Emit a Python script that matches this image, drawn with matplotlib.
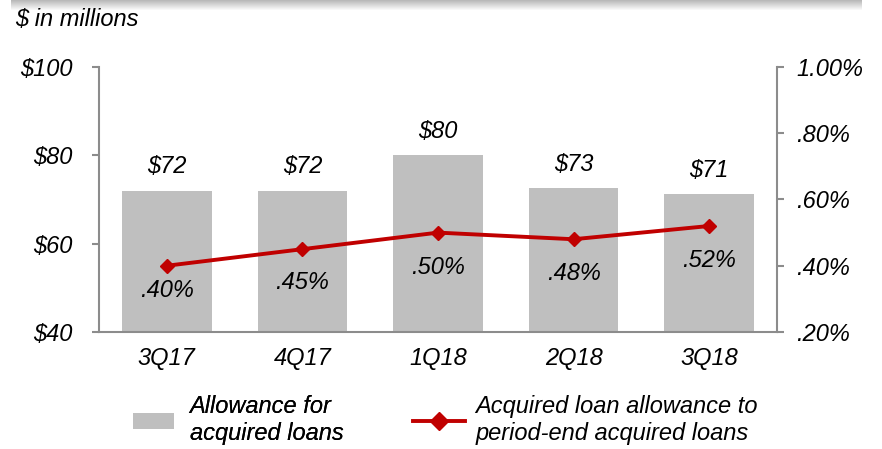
import numpy as np
import matplotlib
matplotlib.use('Agg')
import matplotlib.pyplot as plt
from matplotlib.lines import Line2D
from matplotlib.patches import Patch, Rectangle

#data
quarters = ['3Q17', '4Q17', '1Q18', '2Q18', '3Q18']
allowance = [72, 72, 80, 72.6, 71.2]  #$ in millions
allowance_labels = ['$72', '$72', '$80', '$73', '$71']
ratio = [0.40, 0.45, 0.50, 0.48, 0.52]  #percent
ratio_labels = ['.40%', '.45%', '.50%', '.48%', '.52%']
left_ticks = [40, 60, 80, 100]
left_ticklabels = ['$40', '$60', '$80', '$100']
right_ticks = [0.2, 0.4, 0.6, 0.8, 1.0]
right_ticklabels = ['.20%', '.40%', '.60%', '.80%', '1.00%']

plt.rcParams['font.family'] = ['Liberation Sans', 'DejaVu Sans']
plt.rcParams['font.style'] = 'italic'

bar_color = '#BFBFBF'
line_color = '#C00000'
axis_color = '#8C8C8C'
fs = 17

fig = plt.figure(figsize=(8.82, 4.49), dpi=100)
ax = fig.add_axes([0.1122, 0.2606, 0.7687, 0.5902])
x = np.arange(len(quarters))

ax.bar(x, allowance, width=0.66, color=bar_color, zorder=1)
ax.set_xlim(-0.5, len(quarters) - 0.5)
ax.set_ylim(40, 100)
ax.set_yticks(left_ticks)
ax.set_yticklabels(left_ticklabels, fontsize=fs, style='italic')
ax.set_xticks(x)
ax.set_xticklabels(quarters, fontsize=fs, style='italic')
ax.tick_params(axis='x', length=0, pad=11)
ax.tick_params(axis='y', direction='out', length=5, width=1.5, color=axis_color, pad=14)
for s in ['top', 'right']:
    ax.spines[s].set_visible(False)
for s in ['left', 'bottom']:
    ax.spines[s].set_color(axis_color)
    ax.spines[s].set_linewidth(1.5)

for xi, v, lab in zip(x, allowance, allowance_labels):
    ax.annotate(lab, (xi, v), xytext=(0, 9), textcoords='offset points',
                ha='center', va='bottom', fontsize=fs, style='italic')

ax2 = ax.twinx()
ax2.plot(x, ratio, color=line_color, linewidth=2.8, marker='D', markersize=7,
         zorder=3)
ax2.set_ylim(0.2, 1.0)
ax2.set_yticks(right_ticks)
ax2.set_yticklabels(right_ticklabels, fontsize=fs, style='italic')
ax2.tick_params(axis='y', direction='out', length=5, width=1.5, color=axis_color, pad=9)
for s in ['top', 'left', 'bottom']:
    ax2.spines[s].set_visible(False)
ax2.spines['right'].set_color(axis_color)
ax2.spines['right'].set_linewidth(1.5)

#label offsets below the line points (pixels from point to label centre)
label_drop = [25, 33, 35, 34, 35]
for xi, v, lab, d in zip(x, ratio, ratio_labels, label_drop):
    ax2.annotate(lab, (xi, v), xytext=(0, -d * 0.72), textcoords='offset points',
                 ha='center', va='center', fontsize=fs, style='italic')

#title note
fig.text(0.017, 0.957, '$ in millions', fontsize=fs, style='italic', va='center')

#top shadow band
for i in range(10):
    fig.patches.append(Rectangle((0.012, 1 - (i + 1) / 449.0), 0.965, 1 / 449.0,
                                 transform=fig.transFigure, color='#808080',
                                 alpha=0.55 * (1 - i / 10.0), linewidth=0))

#legend, one entry each so the handles can have different lengths
leg1 = fig.legend([Patch(facecolor=bar_color, edgecolor='none')],
                  ['Allowance for\nacquired loans'],
                  loc='center left', bbox_to_anchor=(133 / 882.0, 0.064),
                  frameon=False, borderpad=0, borderaxespad=0,
                  handlelength=1.75, handleheight=0.72, handletextpad=0.65,
                  prop={'style': 'italic', 'size': fs})
leg2 = fig.legend([Line2D([0], [0], color=line_color, linewidth=2.8, marker='D',
                          markersize=9.5)],
                  ['Acquired loan allowance to\nperiod-end acquired loans'],
                  loc='center left', bbox_to_anchor=(413 / 882.0, 0.064),
                  frameon=False, borderpad=0, borderaxespad=0,
                  handlelength=2.2, handletextpad=0.45,
                  prop={'style': 'italic', 'size': fs})
fig.add_artist(leg1)

fig.savefig('out.png', dpi=100)
